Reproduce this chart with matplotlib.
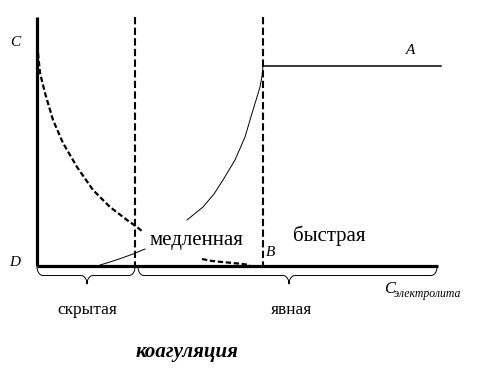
import numpy as np
import matplotlib.pyplot as plt

plt.rcParams['font.family'] = ['Liberation Serif', 'DejaVu Serif']

# diagram coordinates (pixel-like units of the drawing, y grows downwards)
x_axis_start, x_axis_end = 37, 438
y_top, y_base = 17, 266
x_hidden_end = 135     # end of latent coagulation
x_fast_start = 263     # start of fast coagulation (point B)
y_plateau = 66         # level of line A
x_plateau_end = 441

# dashed curve (stability), two pieces around the label
dash_x1 = [38, 40, 45, 53, 63, 77, 93, 110, 127, 137, 143]
dash_y1 = [53, 73, 93, 120, 143, 167, 190, 207, 220, 227, 232]
dash_x2 = [202, 212, 222, 233, 242, 250]
dash_y2 = [259, 261, 262, 263, 264, 265]

# thin curve (coagulation rate), two pieces around the label
thin_x1 = [100, 110, 122, 133, 145]
thin_y1 = [265, 262, 258, 254, 249]
thin_x2 = [187, 203, 214, 223, 235, 245, 253, 257, 260, 262, 263]
thin_y2 = [220, 207, 194, 180, 160, 137, 110, 97, 87, 76, 66]

fig = plt.figure(figsize=(4.87, 3.70), dpi=100)
ax = fig.add_axes([0, 0, 1, 1])
ax.set_xlim(0, 487)
ax.set_ylim(370, 0)
ax.axis('off')

ax.plot([x_axis_start, x_axis_start], [y_top, y_base], color='black', lw=2.3, solid_capstyle='butt')
ax.plot([x_axis_start, x_axis_end], [y_base, y_base], color='black', lw=2.3, solid_capstyle='butt')

for xv in (x_hidden_end, x_fast_start):
    ax.plot([xv, xv], [y_top, y_base], color='black', lw=1.5, linestyle=(0, (3.5, 1.6)))

ax.plot([x_fast_start, x_plateau_end], [y_plateau, y_plateau], color='black', lw=1.1)

ax.plot(dash_x1, dash_y1, color='black', lw=1.6, linestyle=(0, (2.4, 1.2)))
ax.plot(dash_x2, dash_y2, color='black', lw=1.6, linestyle=(0, (2.4, 1.2)))
ax.plot(thin_x1, thin_y1, color='black', lw=0.7)
ax.plot(thin_x2, thin_y2, color='black', lw=0.7)


def brace(x0, x1, xm, y0, h, r=6):
    t = np.linspace(0, np.pi / 2, 12)
    ry = h / 2
    xs = np.concatenate([
        x0 + r - r * np.cos(t),
        xm - r + r * np.sin(t),
        xm + r - r * np.cos(t),
        x1 - r + r * np.sin(t),
    ])
    ys = np.concatenate([
        y0 + ry * np.sin(t),
        y0 + 2 * ry - ry * np.cos(t),
        y0 + 2 * ry - ry * np.sin(t),
        y0 + ry * np.cos(t),
    ])
    ax.plot(xs, ys, color='black', lw=0.7)


brace(37, 135, 87, 267, 17)
brace(138, 437, 289, 267, 17)

ax.text(15, 43, 'C', fontsize=11, style='italic', ha='center', va='center')
ax.text(15, 262, 'D', fontsize=11, style='italic', ha='center', va='center')
ax.text(411, 50, 'A', fontsize=11, style='italic', ha='center', va='center')
ax.text(271, 253, 'B', fontsize=11, style='italic', ha='center', va='center')

ax.text(196, 240, 'медленная', fontsize=15, ha='center', va='center')
ax.text(329, 236, 'быстрая', fontsize=15, ha='center', va='center')
ax.text(87, 310, 'скрытая', fontsize=12.5, ha='center', va='center')
ax.text(292, 310, 'явная', fontsize=12.5, ha='center', va='center')
ax.text(187, 352, 'коагуляция', fontsize=15, ha='center', va='center',
        style='italic', weight='bold')
ax.text(384, 289, 'C', fontsize=12, style='italic', ha='left', va='center')
ax.text(394, 294, 'электролита', fontsize=8.5, style='italic', ha='left', va='center')

fig.savefig('out.png', dpi=100)
